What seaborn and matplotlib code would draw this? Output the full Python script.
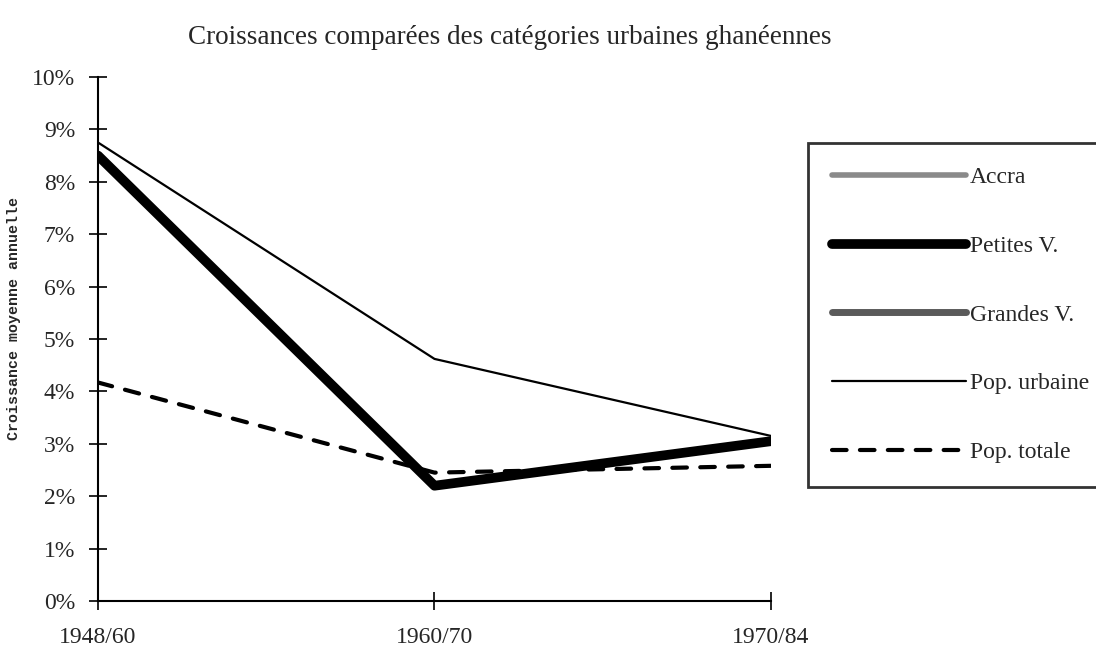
import numpy as np
import pandas as pd
import matplotlib
matplotlib.use("Agg")
import matplotlib.pyplot as plt
import seaborn as sns

# === Données ===
periodes = ["1948/60", "1960/70", "1970/84"]
accra = [8.5, 2.2, 3.05]          # masquée sous Petites V.
petites_v = [8.5, 2.2, 3.05]
grandes_v = [8.5, 2.2, 3.05]      # masquée sous Petites V.
pop_urbaine = [8.75, 4.62, 3.15]
pop_totale = [4.17, 2.45, 2.58]

series = {
    "Accra": accra,
    "Petites V.": petites_v,
    "Grandes V.": grandes_v,
    "Pop. urbaine": pop_urbaine,
    "Pop. totale": pop_totale,
}

styles = {
    "Accra": dict(color="#8a8a8a", lw=4, ls="-"),
    "Petites V.": dict(color="black", lw=7, ls="-", solid_capstyle="round"),
    "Grandes V.": dict(color="#5a5a5a", lw=5, ls="-"),
    "Pop. urbaine": dict(color="black", lw=1.6, ls="-"),
    "Pop. totale": dict(color="black", lw=3, ls=(0, (3.5, 3.2)), dash_capstyle="round"),
}

sns.set_style("white")
plt.rcParams["font.family"] = ["Liberation Serif", "DejaVu Serif"]

fig = plt.figure(figsize=(10.96, 6.56), dpi=100)
ax = fig.add_axes([98 / 1096, 55 / 656, 673 / 1096, 524 / 656])

x = np.arange(len(periodes))
order = ["Accra", "Grandes V.", "Pop. urbaine", "Pop. totale", "Petites V."]
for name in order:
    df = pd.DataFrame({"x": x, "y": series[name]})
    sns.lineplot(data=df, x="x", y="y", ax=ax, label=name, **styles[name])

ax.set_xlim(0, 2)
ax.set_ylim(0, 10)
ax.set_xticks(x)
ax.set_xticklabels(periodes, fontsize=17)
ax.set_yticks(range(0, 11))
ax.set_yticklabels([f"{i}%" for i in range(0, 11)], fontsize=17)
ax.tick_params(axis="both", direction="inout", length=13, width=1.2,
               color="black", bottom=True, left=True)
ax.tick_params(axis="x", pad=12)
ax.tick_params(axis="y", pad=10)
for s in ["top", "right"]:
    ax.spines[s].set_visible(False)
for s in ["left", "bottom"]:
    ax.spines[s].set_color("black")
    ax.spines[s].set_linewidth(1.5)
ax.set_xlabel("")
ax.set_ylabel("")

fig.text(14 / 1096, 1 - 318 / 656, "Croissance moyenne annuelle", rotation=90,
         ha="center", va="center", fontsize=10.8, fontweight="bold",
         family="Liberation Mono")

fig.text(0.465, 1 - 38 / 656, "Croissances comparées des catégories urbaines ghanéennes",
         ha="center", va="center", fontsize=19.5)

# légende dans l'ordre d'origine
handles, labels = ax.get_legend_handles_labels()
hmap = dict(zip(labels, handles))
names = list(series.keys())
leg = ax.legend([hmap[n] for n in names], names, loc="upper left",
                bbox_to_anchor=(808 / 1096, 1 - 143 / 656),
                bbox_transform=fig.transFigure, fontsize=17,
                handlelength=5.7, handletextpad=0.15, labelspacing=2.0,
                borderpad=1.0, fancybox=False, frameon=True,
                borderaxespad=0)
leg.get_frame().set_edgecolor("black")
leg.get_frame().set_linewidth(2)

fig.savefig("out.png", dpi=100)
